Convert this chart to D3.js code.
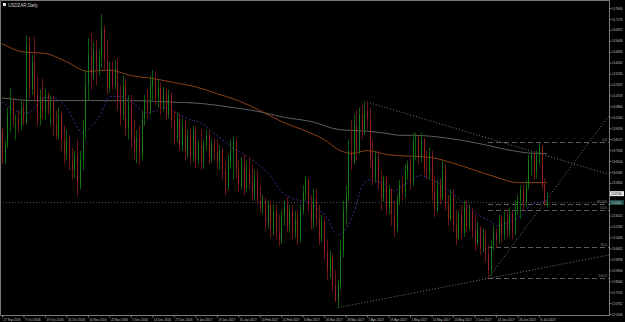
<!DOCTYPE html>
<html>
<head>
<meta charset="utf-8">
<script src="https://cdn.jsdelivr.net/npm/d3@7"></script>
<style>
  body { margin: 0; background: #000; }
  svg { display: block; }
  text { font-family: "Liberation Sans", Arial, sans-serif; }
</style>
</head>
<body>
<div id="chart"></div>
<script>
// USDZAR daily, 27 Sep 2016 .. Jul 2017
const xLabels = ["27 Sep 2016","7 Oct 2016","19 Oct 2016","31 Oct 2016","10 Nov 2016","22 Nov 2016",
  "2 Dec 2016","14 Dec 2016","27 Dec 2016","9 Jan 2017","19 Jan 2017","31 Jan 2017","10 Feb 2017",
  "22 Feb 2017","6 Mar 2017","16 Mar 2017","28 Mar 2017","7 Apr 2017","19 Apr 2017","1 May 2017",
  "11 May 2017","23 May 2017","2 Jun 2017","14 Jun 2017","26 Jun 2017","6 Jul 2017"];

const yTicks = [14.79640,14.71776,14.63912,14.56048,14.48184,14.40320,14.32456,14.24592,14.16728,
  14.08864,14.01000,13.93136,13.85272,13.77408,13.69544,13.61680,13.53816,13.45952,13.38088,
  13.30224,13.22360,13.14496,13.06632,12.98768,12.90904,12.83040,12.75176,12.67312,12.59448];

const opens = [13.92,13.70,13.81,14.03,14.13,13.99,14.00,13.95,14.08,13.98,
  14.53,14.21,14.41,14.17,14.00,14.15,14.06,14.17,14.08,14.13,
  13.95,13.88,14.03,13.85,13.74,13.85,13.69,13.63,13.74,13.52,
  13.70,13.92,14.24,14.46,14.31,14.49,14.35,14.44,14.64,14.42,
  14.22,14.35,14.24,14.36,14.13,14.03,14.24,13.93,14.10,13.85,
  13.77,13.86,13.74,14.00,14.13,14.06,14.24,14.29,14.15,14.22,
  14.08,14.19,14.03,14.17,13.99,13.86,14.00,13.81,13.95,13.77,
  13.88,13.72,13.92,13.70,13.81,13.69,13.81,13.88,13.72,13.81,
  13.76,13.69,13.77,13.62,13.52,13.69,13.77,13.83,13.63,13.52,
  13.67,13.50,13.64,13.54,13.45,13.57,13.41,13.36,13.41,13.26,
  13.38,13.20,13.33,13.18,13.13,13.31,13.38,13.23,13.34,13.18,
  13.28,13.14,13.34,13.47,13.56,13.38,13.26,13.43,13.28,13.14,
  13.26,13.04,12.91,13.00,12.80,12.69,12.80,13.05,13.34,13.45,
  13.77,13.70,13.95,13.77,14.03,13.92,14.06,14.00,13.70,13.57,
  13.72,13.54,13.43,13.56,13.36,13.49,13.31,13.21,13.41,13.52,
  13.47,13.63,13.67,13.54,13.85,13.86,13.72,13.85,13.64,13.62,
  13.74,13.47,13.34,13.52,13.43,13.63,13.38,13.28,13.45,13.23,
  13.14,13.31,13.18,13.36,13.23,13.33,13.20,13.11,13.21,13.07,
  13.16,13.02,12.91,13.09,13.18,13.13,13.27,13.16,13.28,13.20,
  13.31,13.18,13.34,13.41,13.49,13.40,13.52,13.70,13.74,13.62,
  13.74,13.79,13.52,13.38];

const highs = [13.93,13.85,14.08,14.22,14.15,14.03,14.06,14.13,14.12,14.60,
  14.59,14.46,14.59,14.31,14.21,14.29,14.21,14.19,14.17,14.16,
  14.06,14.08,14.05,13.95,13.92,13.88,13.79,13.77,13.85,13.77,
  13.99,14.35,14.58,14.62,14.55,14.57,14.49,14.75,14.67,14.57,
  14.41,14.41,14.42,14.44,14.24,14.31,14.29,14.17,14.17,13.99,
  13.92,13.95,14.06,14.17,14.21,14.31,14.35,14.34,14.28,14.26,
  14.23,14.22,14.21,14.19,14.06,14.05,14.03,14.00,13.99,13.92,
  13.93,13.95,13.95,13.85,13.93,13.85,13.92,13.92,13.85,13.86,
  13.85,13.81,13.79,13.70,13.74,13.85,13.87,13.85,13.70,13.72,
  13.74,13.70,13.72,13.67,13.63,13.63,13.52,13.45,13.43,13.41,
  13.41,13.38,13.38,13.31,13.34,13.41,13.43,13.38,13.38,13.34,
  13.34,13.38,13.52,13.59,13.57,13.45,13.49,13.49,13.38,13.31,
  13.28,13.13,13.05,13.02,12.91,12.84,13.13,13.41,13.52,13.85,
  13.99,14.03,14.06,14.08,14.10,14.12,14.12,14.08,13.85,13.77,
  13.77,13.63,13.59,13.59,13.52,13.50,13.41,13.45,13.56,13.59,
  13.67,13.70,13.72,13.90,13.90,13.88,13.90,13.86,13.77,13.79,
  13.77,13.59,13.56,13.57,13.70,13.67,13.45,13.49,13.49,13.34,
  13.34,13.38,13.41,13.41,13.38,13.36,13.31,13.26,13.23,13.21,
  13.20,13.09,13.13,13.23,13.21,13.31,13.31,13.33,13.34,13.36,
  13.34,13.41,13.45,13.52,13.52,13.56,13.74,13.77,13.77,13.77,
  13.83,13.81,13.57,13.47];

const lows = [13.67,13.67,13.79,13.90,13.95,13.85,13.90,13.92,13.95,13.96,
  14.15,14.17,14.13,13.95,13.95,14.00,13.99,14.03,13.95,13.88,
  13.85,13.85,13.77,13.67,13.70,13.63,13.56,13.57,13.44,13.49,
  13.63,13.85,14.13,14.21,14.28,14.24,14.31,14.37,14.35,14.17,
  14.19,14.21,14.21,14.06,13.95,13.99,13.88,13.85,13.79,13.70,
  13.68,13.67,13.70,13.95,14.00,14.03,14.13,14.10,14.08,14.03,
  14.05,13.99,14.00,13.93,13.81,13.83,13.77,13.77,13.70,13.72,
  13.67,13.69,13.64,13.67,13.63,13.64,13.77,13.67,13.69,13.70,
  13.64,13.63,13.56,13.45,13.49,13.64,13.56,13.57,13.47,13.49,
  13.45,13.47,13.49,13.41,13.41,13.38,13.32,13.31,13.20,13.21,
  13.14,13.16,13.13,13.08,13.10,13.23,13.18,13.18,13.13,13.14,
  13.09,13.11,13.31,13.41,13.33,13.20,13.21,13.23,13.09,13.11,
  12.98,12.84,12.85,12.75,12.68,12.64,12.77,13.00,13.23,13.41,
  13.63,13.67,13.70,13.74,13.85,13.88,13.92,13.64,13.52,13.54,
  13.49,13.34,13.40,13.31,13.31,13.23,13.15,13.18,13.38,13.41,
  13.43,13.56,13.49,13.52,13.70,13.67,13.69,13.59,13.57,13.56,
  13.41,13.29,13.33,13.38,13.41,13.34,13.23,13.26,13.18,13.09,
  13.13,13.13,13.15,13.18,13.20,13.14,13.05,13.09,13.02,13.04,
  12.97,12.85,12.87,13.05,13.07,13.10,13.11,13.13,13.14,13.15,
  13.13,13.16,13.31,13.28,13.34,13.36,13.49,13.59,13.56,13.57,
  13.67,13.49,13.37,13.36];

const closes = [13.70,13.81,14.03,14.13,13.99,14.00,13.95,14.08,13.98,14.53,
  14.21,14.41,14.17,14.00,14.15,14.06,14.17,14.08,14.13,13.95,
  13.88,14.03,13.85,13.74,13.85,13.69,13.63,13.74,13.52,13.70,
  13.92,14.24,14.46,14.31,14.49,14.35,14.44,14.64,14.42,14.22,
  14.35,14.24,14.36,14.13,14.03,14.24,13.93,14.10,13.85,13.77,
  13.86,13.74,14.00,14.13,14.06,14.24,14.29,14.15,14.22,14.08,
  14.19,14.03,14.17,13.99,13.86,14.00,13.81,13.95,13.77,13.88,
  13.72,13.92,13.70,13.81,13.69,13.81,13.88,13.72,13.81,13.76,
  13.69,13.77,13.62,13.52,13.69,13.77,13.83,13.63,13.52,13.67,
  13.50,13.64,13.54,13.45,13.57,13.41,13.36,13.41,13.26,13.38,
  13.20,13.33,13.18,13.13,13.31,13.38,13.23,13.34,13.18,13.28,
  13.14,13.34,13.47,13.56,13.38,13.26,13.43,13.28,13.14,13.26,
  13.04,12.91,13.00,12.80,12.69,12.80,13.05,13.34,13.45,13.77,
  13.70,13.95,13.77,14.03,13.92,14.06,14.00,13.70,13.57,13.72,
  13.54,13.43,13.56,13.36,13.49,13.31,13.21,13.41,13.52,13.47,
  13.63,13.67,13.54,13.85,13.86,13.72,13.85,13.64,13.62,13.74,
  13.47,13.34,13.52,13.43,13.63,13.38,13.28,13.45,13.23,13.14,
  13.31,13.18,13.36,13.23,13.33,13.20,13.11,13.21,13.07,13.16,
  13.02,12.91,13.09,13.18,13.13,13.27,13.16,13.28,13.20,13.31,
  13.18,13.34,13.41,13.49,13.40,13.52,13.70,13.74,13.62,13.74,
  13.79,13.52,13.38,13.40];

// moving averages: [bar, price]
const maOrange = [[0,14.54],[8,14.48],[16,14.47],[24,14.41],[32,14.34],[40,14.35],[48,14.31],
  [56,14.29],[64,14.26],[72,14.23],[80,14.18],[88,14.13],[96,14.06],[104,13.98],[112,13.92],
  [120,13.85],[126,13.77],[130,13.75],[136,13.77],[144,13.74],[152,13.73],[160,13.72],
  [168,13.68],[176,13.63],[184,13.58],[192,13.54],[203,13.54]];
const maGray = [[0,14.15],[12,14.13],[25,14.13],[37,14.13],[49,14.13],[62,14.12],[74,14.11],
  [86,14.08],[96,14.05],[105,14.01],[115,13.98],[126,13.92],[136,13.91],[141,13.90],
  [149,13.88],[153,13.88],[166,13.86],[178,13.82],[190,13.77],[199,13.75],[203,13.75]];
const maPurple = [[0,14.12],[3,14.08],[9,14.04],[13,14.10],[14,14.15],[19,14.15],[24,14.08],
  [30,13.90],[33,13.94],[37,14.04],[40,14.16],[44,14.16],[49,14.11],[54,14.04],[58,14.06],
  [61,14.08],[64,14.05],[69,14.00],[74,13.97],[80,13.88],[86,13.79],[92,13.72],[99,13.61],
  [105,13.46],[111,13.41],[115,13.40],[117,13.36],[121,13.29],[125,13.16],[127,13.18],
  [131,13.32],[134,13.51],[137,13.56],[141,13.54],[146,13.48],[151,13.54],[156,13.59],
  [159,13.57],[166,13.49],[171,13.41],[175,13.34],[182,13.26],[185,13.23],[190,13.27],
  [194,13.31],[197,13.38],[201,13.40],[203,13.41]];

// trendlines: two anchors each [bar, price], drawn as rays to the right edge
const trendDown = [[136,14.12],[200,13.75]];
const trendUp = [[181,12.85],[201,13.37]];
const trendLow = [[125,12.64],[181,12.85]];

// fibo levels (from the July high down to the June low)
const fibStart = 181;
const fibLevels = [13.83, 13.385, 13.34, 13.08, 12.85];
const fibNames = ["0.0", "W 000", "50.0", "76.4", "100.0"];

const W = 625, H = 322, right = 609, bottom = 315;
const font = '"Liberation Sans", Arial, sans-serif';

const x = d3.scaleLinear().domain([0, closes.length - 1]).range([2, 547]);
const y = d3.scaleLinear().domain([yTicks[yTicks.length - 1], yTicks[0]]).range([314, 8]);

const svg = d3.select('#chart').append('svg')
  .attr('width', W).attr('height', H);

svg.append('rect').attr('width', W).attr('height', H).attr('fill', '#000');

svg.append('defs').append('clipPath').attr('id', 'clip')
  .append('rect').attr('x', 1).attr('y', 1).attr('width', right - 1).attr('height', bottom - 1);

const plot = svg.append('g').attr('clip-path', 'url(#clip)');

// bid line
const bid = closes[closes.length - 1];
plot.append('line')
  .attr('x1', 0).attr('x2', right)
  .attr('y1', Math.round(y(bid)) + 0.5).attr('y2', Math.round(y(bid)) + 0.5)
  .attr('stroke', '#3f5555').attr('stroke-dasharray', '1,2');

// fibo
const endBar = x.invert(right);
plot.selectAll('line.fib')
  .data(fibLevels)
  .join('line')
  .attr('class', 'fib')
  .attr('x1', x(fibStart)).attr('x2', right)
  .attr('y1', d => Math.round(y(d)) + 0.5).attr('y2', d => Math.round(y(d)) + 0.5)
  .attr('stroke', '#5e5e5e').attr('stroke-dasharray', '5,3');

svg.selectAll('text.fib')
  .data(fibLevels)
  .join('text')
  .attr('class', 'fib')
  .attr('x', right - 2).attr('y', d => y(d) - 1)
  .attr('text-anchor', 'end')
  .attr('font-size', 3.5).attr('fill', '#8a8a8a')
  .text((d, i) => fibNames[i]);

// trendlines
function ray(t) {
  const [a, b] = t;
  const k = (b[1] - a[1]) / (b[0] - a[0]);
  return [a, [endBar, a[1] + k * (endBar - a[0])]];
}
const line = d3.line().x(d => x(d[0])).y(d => y(d[1]));
[trendDown, trendUp, trendLow].forEach(t => {
  plot.append('path')
    .attr('d', line(ray(t)))
    .attr('fill', 'none')
    .attr('stroke', '#7a7a7a')
    .attr('stroke-dasharray', '1,2');
});

// moving averages
const curve = d3.line().x(d => x(d[0])).y(d => y(d[1])).curve(d3.curveMonotoneX);
plot.append('path').attr('d', curve(maGray))
  .attr('fill', 'none').attr('stroke', '#5e5e5e').attr('stroke-width', 1);
plot.append('path').attr('d', curve(maOrange))
  .attr('fill', 'none').attr('stroke', '#8a4218').attr('stroke-width', 1);
plot.append('path').attr('d', curve(maPurple))
  .attr('fill', 'none').attr('stroke', '#45288c').attr('stroke-width', 1)
  .attr('stroke-dasharray', '2,2');

// candles
const bars = d3.range(closes.length).map(i => ({
  i, o: opens[i], h: highs[i], l: lows[i], c: closes[i]
}));

plot.selectAll('line.wick')
  .data(bars)
  .join('line')
  .attr('class', 'wick')
  .attr('x1', d => Math.round(x(d.i)) + 0.5)
  .attr('x2', d => Math.round(x(d.i)) + 0.5)
  .attr('y1', d => y(d.h))
  .attr('y2', d => y(d.l))
  .attr('stroke', d => d.c >= d.o ? '#0f5c0f' : '#6a1414');

plot.selectAll('rect.body')
  .data(bars)
  .join('rect')
  .attr('class', 'body')
  .attr('x', d => Math.round(x(d.i)))
  .attr('width', 1)
  .attr('y', d => y(Math.max(d.o, d.c)))
  .attr('height', d => Math.max(1, Math.abs(y(d.o) - y(d.c))))
  .attr('fill', d => d.c >= d.o ? '#177d17' : '#952020');

// frame
svg.append('path')
  .attr('d', `M0.5,${bottom + 0.5}V0.5H${right + 0.5}V${bottom + 0.5}Z`)
  .attr('fill', 'none').attr('stroke', '#7a7a7a');

// price tags on the axis (they cover the grid labels they sit on)
const tagHi = 13.457;
const tags = [
  { v: tagHi, top: y(tagHi) - 3, bg: '#e4e4e4', fg: '#000' },
  { v: bid, top: y(bid) - 2, bg: '#1f4a4a', fg: '#d0d0d0' }
];
const freeTicks = yTicks.filter(v => tags.every(t => Math.abs(y(v) - (t.top + 2.5)) > 5));

// price axis
const yAxis = svg.append('g')
  .attr('transform', `translate(${right + 0.5},0)`)
  .call(d3.axisRight(y).tickValues(freeTicks).tickFormat(d3.format('.5f')).tickSize(2).tickPadding(0.5));
yAxis.select('.domain').remove();
yAxis.selectAll('line').attr('stroke', '#7a7a7a');
yAxis.selectAll('text').attr('font-size', 3.4).attr('fill', '#c0c0c0')
  .attr('font-family', font)
  .attr('textLength', 10.5).attr('lengthAdjust', 'spacingAndGlyphs');

tags.forEach(t => {
  svg.append('rect').attr('x', right + 1).attr('y', t.top).attr('width', 14).attr('height', 5)
    .attr('fill', t.bg);
  svg.append('text').attr('x', right + 2).attr('y', t.top + 3.8)
    .attr('font-size', 3.4).attr('fill', t.fg)
    .attr('textLength', 10.5).attr('lengthAdjust', 'spacingAndGlyphs')
    .text(d3.format('.5f')(t.v));
});

// time axis
const xAxis = svg.append('g')
  .attr('transform', `translate(0,${bottom + 0.5})`)
  .call(d3.axisBottom(x)
    .tickValues(xLabels.map((d, i) => i * 8))
    .tickFormat((d, i) => xLabels[i])
    .tickSize(2).tickPadding(1));
xAxis.select('.domain').remove();
xAxis.selectAll('line').attr('stroke', '#7a7a7a');
xAxis.selectAll('text').attr('font-size', 3.6).attr('fill', '#c0c0c0')
  .attr('text-anchor', 'start').attr('dx', 1)
  .attr('font-family', font)
  .attr('textLength', d => xLabels[d / 8].length > 10 ? 17 : 15.5)
  .attr('lengthAdjust', 'spacingAndGlyphs');

// title
svg.append('rect').attr('x', 3).attr('y', 3).attr('width', 3).attr('height', 3).attr('fill', '#e0e0e0');
svg.append('text').attr('x', 8).attr('y', 6.5)
  .attr('font-size', 4.5).attr('fill', '#d0d0d0').text('USDZAR,Daily');
</script>
</body>
</html>
